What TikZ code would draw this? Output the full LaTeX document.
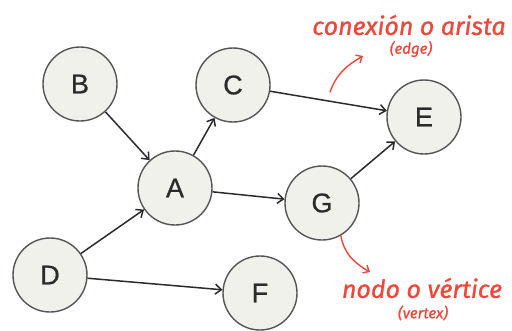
\documentclass[tikz,border=0pt]{standalone}
\usepackage{fontspec}
\setmainfont{Liberation Sans}
\newfontfamily\vertexfont{Liberation Sans}[FakeBold=0.8]
\newfontfamily\handfont{Fira Sans}[FakeBold=1]
\usetikzlibrary{arrows.meta,positioning}
\definecolor{ink}{HTML}{2B2B2B}
\definecolor{rim}{HTML}{555555}
\definecolor{soft}{HTML}{F1F1EC}
\definecolor{redpen}{HTML}{F0463A}

\begin{document}
\begin{tikzpicture}[x=1pt, y=-1pt,
    vertex/.style={circle, draw=rim, fill=soft, line width=1.4pt, minimum size=74pt,
                   inner sep=0pt, text=ink, font=\vertexfont\fontsize{27}{27}\selectfont},
    link/.style={draw=ink, line width=1.5pt, -{Straight Barb[length=6pt,width=10pt]}},
    note/.style={text=redpen, font=\handfont\itshape\fontsize{25}{25}\selectfont},
    subnote/.style={text=redpen, font=\handfont\itshape\fontsize{15}{15}\selectfont},
    pointer/.style={draw=redpen, line width=1.4pt, line cap=round,
                    -{Straight Barb[length=5pt,width=9pt]}}]
  \useasboundingbox (0,0) rectangle (512,330);
  % vertices
  \foreach \n/\x/\y in {A/175/188, B/80/84, C/233/85, D/50/275,
                        E/424/117, F/260/293, G/322/203}
    \node[vertex] (\n) at (\x,\y) {\n};
  % directed edges
  \foreach \s/\t in {B/A, A/C, C/E, A/G, G/E, D/A, D/F}
    \draw[link] (\s) -- (\t);
  % red annotations
  \node[note] (edgelbl) at (409,25) {conexión o arista};
  \node[subnote] (edgesub) at (411,49) {(edge)};
  \node[note] (vertlbl) at (422,288) {nodo o vértice};
  \node[subnote] (vertsub) at (423,313) {(vertex)};
  \coordinate (edgefrom) at (330,92);
  \coordinate (edgeto) at (363,56);
  \coordinate (vertto) at (370,272);
  \draw[pointer] (edgefrom) to[out=70, in=210] (edgeto);
  \draw[pointer] (G.-60) to[out=-80, in=150] (vertto);
\end{tikzpicture}
\end{document}
